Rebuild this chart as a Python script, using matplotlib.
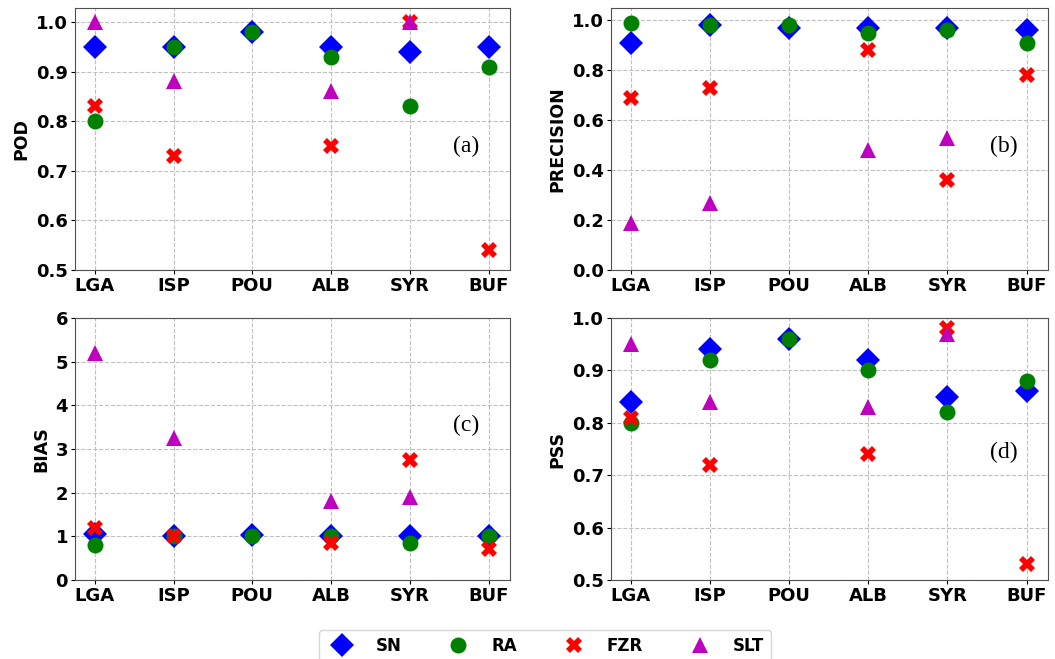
import numpy as np
import matplotlib
matplotlib.use("Agg")
import matplotlib.pyplot as plt

stations = ["LGA", "ISP", "POU", "ALB", "SYR", "BUF"]
nan = np.nan

# POD
pod_sn = [0.95, 0.95, 0.98, 0.95, 0.94, 0.95]
pod_ra = [0.80, 0.95, 0.98, 0.93, 0.83, 0.91]
pod_fzr = [0.83, 0.73, nan, 0.75, 1.00, 0.54]
pod_slt = [1.00, 0.88, nan, 0.86, 1.00, nan]

# PRECISION
pre_sn = [0.91, 0.98, 0.97, 0.97, 0.97, 0.96]
pre_ra = [0.99, 0.98, 0.98, 0.95, 0.96, 0.91]
pre_fzr = [0.69, 0.73, nan, 0.88, 0.36, 0.78]
pre_slt = [0.19, 0.27, nan, 0.48, 0.53, nan]

# BIAS
bias_sn = [1.05, 1.00, 1.02, 1.00, 1.00, 1.00]
bias_ra = [0.80, 1.00, 1.00, 1.00, 0.85, 1.00]
bias_fzr = [1.20, 1.00, nan, 0.85, 2.75, 0.70]
bias_slt = [5.20, 3.25, nan, 1.80, 1.90, nan]

# PSS
pss_sn = [0.84, 0.94, 0.96, 0.92, 0.85, 0.86]
pss_ra = [0.80, 0.92, 0.96, 0.90, 0.82, 0.88]
pss_fzr = [0.81, 0.72, nan, 0.74, 0.98, 0.53]
pss_slt = [0.95, 0.84, nan, 0.83, 0.97, nan]

x = np.arange(len(stations))

fig = plt.figure(figsize=(10.55, 6.59), dpi=100)

# axes boxes in pixels (left, top, right, bottom)
boxes = [(75, 8, 510, 270), (611, 8, 1048, 270),
         (75, 318, 510, 580), (611, 318, 1048, 580)]
W, H = 1055.0, 659.0

panels = [
    ("POD", (pod_sn, pod_ra, pod_fzr, pod_slt), (0.5, 1.028), np.arange(0.5, 1.01, 0.1), "%.1f", "(a)", 0.47),
    ("PRECISION", (pre_sn, pre_ra, pre_fzr, pre_slt), (0.0, 1.048), np.arange(0.0, 1.01, 0.2), "%.1f", "(b)", 0.47),
    ("BIAS", (bias_sn, bias_ra, bias_fzr, bias_slt), (0, 6), np.arange(0, 7, 1), "%d", "(c)", 0.59),
    ("PSS", (pss_sn, pss_ra, pss_fzr, pss_slt), (0.5, 1.0), np.arange(0.5, 1.01, 0.1), "%.1f", "(d)", 0.485),
]

styles = [("D", "blue", "SN", 12), ("o", "green", "RA", 11.5),
          ("X", "red", "FZR", 11.5), ("^", "m", "SLT", 11)]

handles = []
for box, (ylab, series, ylim, yt, fmt, tag, ty) in zip(boxes, panels):
    l, t, r, b = box
    ax = fig.add_axes([l / W, 1 - b / H, (r - l) / W, (b - t) / H])
    for vals, (mk, col, lab, ms) in zip(series, styles):
        h, = ax.plot(x, vals, linestyle="none", marker=mk, color=col,
                     markersize=ms, markeredgewidth=0, label=lab)
        if len(handles) < 4:
            handles.append(h)
    ax.set_xlim(-0.25, 5.27)
    ax.set_ylim(*ylim)
    ax.set_xticks(x)
    ax.set_xticklabels(stations, fontsize=13, fontweight="bold")
    ax.set_yticks(yt)
    ax.set_yticklabels([fmt % v for v in yt], fontsize=13, fontweight="bold")
    ax.set_ylabel(ylab, fontsize=12.5, fontweight="bold")
    ax.grid(True, linestyle="--", color="#c0c0c0", linewidth=0.8)
    ax.set_axisbelow(True)
    for s in ax.spines.values():
        s.set_color("#505050")
    ax.tick_params(length=3, pad=2)
    ax.text(0.90, ty, tag, transform=ax.transAxes, fontsize=17,
            family="Liberation Serif", ha="center", va="center")

fig.legend(handles=handles, loc="center", bbox_to_anchor=(545 / W, 1 - 646 / H),
           ncol=4, prop={"weight": "bold", "size": 12}, frameon=True,
           handletextpad=1.0, columnspacing=2.4, borderpad=0.4)

fig.savefig("out.png", dpi=100)
